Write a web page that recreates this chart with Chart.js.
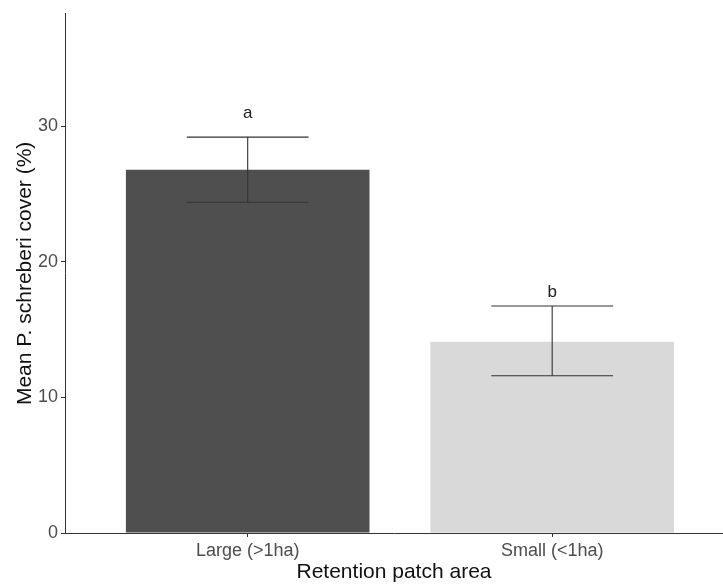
<!DOCTYPE html>
<html>
<head>
<meta charset="utf-8">
<script src="https://cdn.jsdelivr.net/npm/chart.js@4.4.1/dist/chart.umd.min.js"></script>
<style>
  html, body { margin: 0; padding: 0; background: #fff; overflow: hidden; }
  #wrap { width: 723px; height: 585px; }
</style>
</head>
<body>
<div id="wrap"><canvas id="chartCover"></canvas></div>
<script>
var categorias = ['Large (>1ha)', 'Small (<1ha)'];
var medias = [26.8, 14.1];
var erroMin = [24.4, 11.6];
var erroMax = [29.2, 16.75];
var letras = ['a', 'b'];
var letrasY = [30.6, 17.4];
var yTicks = [0, 10, 20, 30];

var fonte = '"Liberation Sans", Arial, sans-serif';

// barras de erro e letras por cima das barras
var errorBars = {
    id: 'errorBars',
    afterDatasetsDraw: function (chart) {
        var ctx = chart.ctx;
        var x = chart.scales.x;
        var y = chart.scales.y;
        ctx.save();
        ctx.strokeStyle = '#333333';
        ctx.lineWidth = 1.1;
        for (var i = 0; i < medias.length; i++) {
            var cx = x.getPixelForValue(i + 1);
            var xl = x.getPixelForValue(i + 1 - 0.2);
            var xr = x.getPixelForValue(i + 1 + 0.2);
            var yl = y.getPixelForValue(erroMin[i]);
            var yh = y.getPixelForValue(erroMax[i]);
            ctx.beginPath();
            ctx.moveTo(xl, yh); ctx.lineTo(xr, yh);
            ctx.moveTo(xl, yl); ctx.lineTo(xr, yl);
            ctx.moveTo(cx, yl); ctx.lineTo(cx, yh);
            ctx.stroke();
        }
        ctx.fillStyle = '#222222';
        ctx.font = '17px ' + fonte;
        ctx.textAlign = 'center';
        ctx.textBaseline = 'alphabetic';
        for (var j = 0; j < letras.length; j++) {
            ctx.fillText(letras[j], x.getPixelForValue(j + 1), y.getPixelForValue(letrasY[j]));
        }
        ctx.restore();
    }
};

new Chart(document.getElementById('chartCover'), {
    type: 'bar',
    data: {
        datasets: [{
            data: categorias.map(function (c, i) { return { x: i + 1, y: medias[i] }; }),
            backgroundColor: ['#4f4f4f', '#d9d9d9'],
            borderWidth: 0,
            barPercentage: 1,
            categoryPercentage: 0.8
        }]
    },
    options: {
        responsive: true,
        maintainAspectRatio: false,
        animation: false,
        layout: { padding: { top: 10, right: 0, bottom: 0, left: 0 } },
        plugins: {
            legend: { display: false },
            tooltip: { enabled: false }
        },
        scales: {
            x: {
                type: 'linear',
                offset: false,
                min: 0.4,
                max: 2.561,
                afterBuildTicks: function (scale) {
                    scale.ticks = categorias.map(function (c, i) { return { value: i + 1 }; });
                },
                afterFit: function (scale) { scale.height = 52; },
                ticks: {
                    callback: function (v) { return categorias[v - 1]; },
                    color: '#4d4d4d',
                    font: { family: fonte, size: 18 },
                    padding: 3,
                    maxRotation: 0
                },
                grid: {
                    offset: false,
                    drawOnChartArea: false,
                    tickLength: 4,
                    tickColor: '#333333'
                },
                border: { display: true, color: '#333333', width: 1 },
                title: {
                    display: true,
                    text: 'Retention patch area',
                    color: '#111111',
                    font: { family: fonte, size: 21 },
                    padding: { top: 0, bottom: 0 }
                }
            },
            y: {
                min: 0,
                max: 38.3,
                afterBuildTicks: function (scale) {
                    scale.ticks = yTicks.map(function (v) { return { value: v }; });
                },
                afterFit: function (scale) { scale.width = 65; },
                ticks: {
                    color: '#4d4d4d',
                    font: { family: fonte, size: 18 },
                    padding: 3
                },
                grid: {
                    drawOnChartArea: false,
                    tickLength: 4,
                    tickColor: '#333333'
                },
                border: { display: true, color: '#333333', width: 1 },
                title: {
                    display: true,
                    text: 'Mean P. schreberi cover (%)',
                    color: '#111111',
                    font: { family: fonte, size: 21 },
                    padding: { top: 13, bottom: 0 }
                }
            }
        }
    },
    plugins: [errorBars]
});
</script>
</body>
</html>
